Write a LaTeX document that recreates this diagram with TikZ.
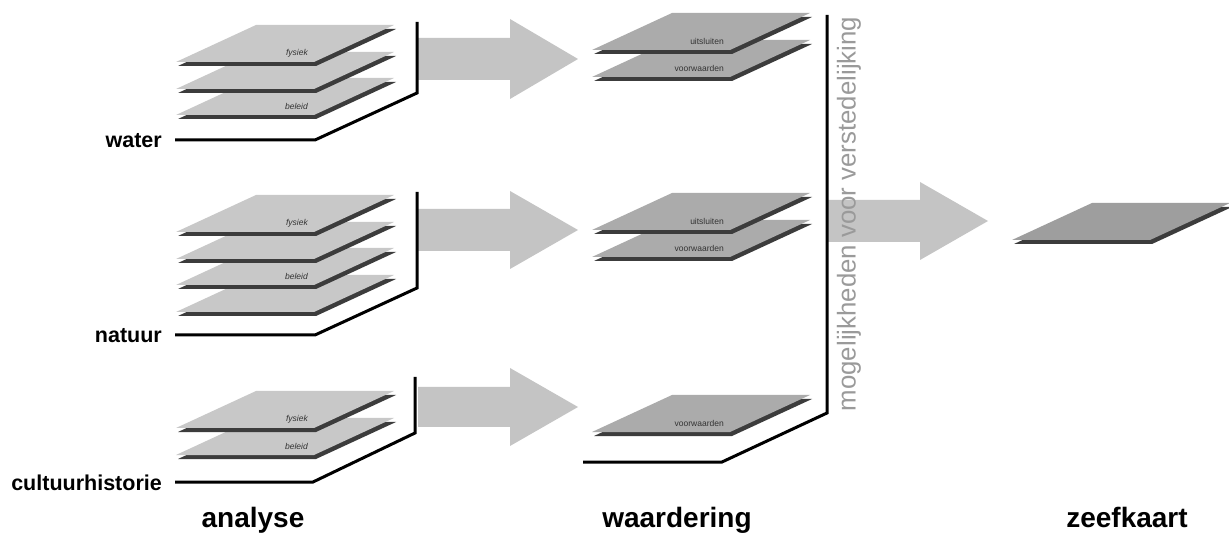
\documentclass[tikz,border=0pt]{standalone}
\usepackage{fontspec}
\setmainfont{Liberation Sans}
\definecolor{layerA}{HTML}{C8C8C8}
\definecolor{layerW}{HTML}{ABABAB}
\definecolor{layerZ}{HTML}{9E9E9E}
\definecolor{shadowc}{HTML}{3C3C3C}
\definecolor{arrowc}{HTML}{C4C4C4}
\definecolor{vtext}{HTML}{9A9A9A}
\definecolor{ltextc}{HTML}{333333}
\tikzset{
  bracket/.style={line width=3pt, line join=miter, black},
  ltext/.style={anchor=east, inner sep=0pt, text=ltextc, font=\fontsize{8.5}{9}\selectfont},
  lname/.style={anchor=east, inner sep=0pt, font=\bfseries\fontsize{21.5}{24}\selectfont},
  title/.style={anchor=base, inner sep=0pt, font=\bfseries\fontsize{28}{32}\selectfont},
  fat/.style={fill=arrowc},
}
% front-left x, front y, fill colour, label (possibly empty), name
\newcommand\mylayer[5]{%
  \fill[shadowc] (#1+2,#2+4) -- ++(138,0) -- ++(80,-37) -- ++(-138,0) -- cycle;
  \fill[#3] (#1,#2) -- ++(138,0) -- ++(80,-37) -- ++(-138,0) -- cycle;
  \node[ltext] (#5) at (#1+132,#2-9) {#4};
}
% x0, head base x, tip x, centre y, shaft half, head half
\newcommand\fatarrow[6]{%
  \fill[fat] (#1,#4-#5) -- (#2,#4-#5) -- (#2,#4-#6) -- (#3,#4) -- (#2,#4+#6) -- (#2,#4+#5) -- (#1,#4+#5) -- cycle;
}
\begin{document}
\begin{tikzpicture}[x=1pt,y=-1pt]
\useasboundingbox (0,0) rectangle (1229,534);
\fill[white] (0,0) rectangle (1229,534);

% ---------- arrows ----------
\fatarrow{418}{510}{578}{59}{21}{40}
\fatarrow{418}{510}{578}{230}{21}{39}
\fatarrow{418}{510}{578}{407}{20}{39}
\fatarrow{828}{920}{988}{221}{21}{39}

% ---------- analyse: water ----------
\draw[bracket] (175,140) -- (315,140) -- (417,93) -- (417,22);
\mylayer{176}{115}{layerA}{\itshape beleid}{aw3}
\mylayer{176}{89}{layerA}{}{aw2}
\mylayer{176}{62}{layerA}{\itshape fysiek}{aw1}
\node[lname] (water) at (162,141) {water};

% ---------- analyse: natuur ----------
\draw[bracket] (175,335) -- (315,335) -- (417,288) -- (417,192);
\mylayer{176}{312}{layerA}{}{an4}
\mylayer{176}{285}{layerA}{\itshape beleid}{an3}
\mylayer{176}{259}{layerA}{}{an2}
\mylayer{176}{232}{layerA}{\itshape fysiek}{an1}
\node[lname] (natuur) at (162,336) {natuur};

% ---------- analyse: cultuurhistorie ----------
\draw[bracket] (175,482) -- (313,482) -- (415,433) -- (415,377);
\mylayer{176}{455}{layerA}{\itshape beleid}{ac2}
\mylayer{176}{428}{layerA}{\itshape fysiek}{ac1}
\node[lname] (cult) at (162,483) {cultuurhistorie};

% ---------- waardering ----------
\draw[bracket] (583,462) -- (722,462) -- (827,413) -- (827,15);
\mylayer{592}{77}{layerW}{voorwaarden}{ww2}
\mylayer{592}{50}{layerW}{uitsluiten}{ww1}
\mylayer{592}{257}{layerW}{voorwaarden}{wn2}
\mylayer{592}{230}{layerW}{uitsluiten}{wn1}
\mylayer{592}{432}{layerW}{voorwaarden}{wc1}
\node[rotate=90, text=vtext, inner sep=0pt, font=\fontsize{25.8}{28}\selectfont] (vt) at (849,214) {mogelijkheden voor verstedelijking};

% ---------- zeefkaart ----------
\mylayer{1012}{240}{layerZ}{}{zk}

% ---------- titles ----------
\node[title] (analyse) at (253,527) {analyse};
\node[title] (waardering) at (677,527) {waardering};
\node[title] (zeefkaart) at (1127,527) {zeefkaart};
\end{tikzpicture}
\end{document}
